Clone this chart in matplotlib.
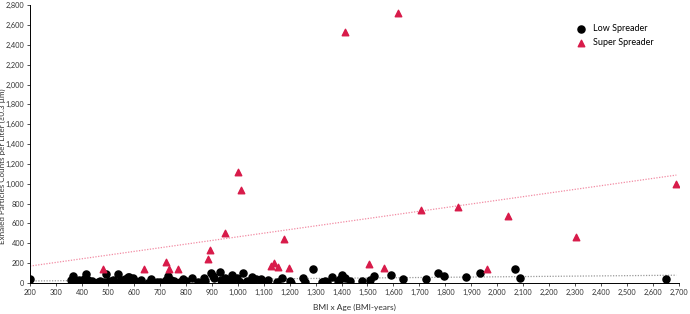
import numpy as np
import matplotlib
matplotlib.use("Agg")
import matplotlib.pyplot as plt
from matplotlib.ticker import FuncFormatter

# low spreader points (BMI x Age, particles / L)
low_x = [200, 356, 366, 375, 388, 399, 408, 417, 423, 434, 447, 460, 473, 486, 494, 505,
         518, 531, 540, 551, 561, 574, 583, 592, 600, 609, 626, 655, 668, 700, 717, 732,
         745, 761, 778, 791, 823, 849, 871, 897, 910, 930, 937, 950, 980, 980, 999, 1019,
         1037, 1057, 1071, 1089, 1093, 1117, 1172, 1202, 1204, 1250, 1260, 1289, 1324, 1337,
         1345, 1363, 1387, 1400, 1413, 1433, 1478, 1511, 1527, 1589, 1638, 1724, 1772, 1794,
         1879, 1935, 2067, 2086, 2651,
         380, 395, 440, 455, 470, 500, 525, 545, 565, 578, 588, 595, 605, 690, 725, 740,
         755, 800, 875, 905, 960, 1010, 1050, 1110, 1150, 1330, 1395]
low_y = [44, 34, 67, 10, 34, 0, 44, 94, 27, 10, 0, 10, 0, 10, 87, 20,
         34, 10, 94, 27, 10, 34, 60, 34, 10, 0, 34, 0, 40, 10, 10, 67,
         34, 0, 10, 44, 54, 10, 54, 97, 54, 114, 30, 54, 81, 13, 54, 97,
         24, 57, 37, 40, 7, 30, 54, 24, 0, 54, 13, 141, 7, 24,
         7, 64, 24, 81, 47, 24, 24, 30, 74, 81, 40, 40, 97, 74,
         64, 104, 138, 54, 37,
         20, 15, 25, 5, 20, 5, 25, 15, 40, 60, 15, 50, 20, 15, 30, 10,
         20, 20, 20, 70, 20, 15, 20, 10, 10, 15, 40]

# super spreader points
super_x = [482, 638, 725, 735, 771, 886, 894, 950, 1000, 1014, 1127, 1139, 1156, 1179, 1198,
           1413, 1505, 1563, 1619, 1705, 1850, 1961, 2040, 2305, 2690]
super_y = [140, 141, 208, 141, 141, 239, 336, 507, 1122, 940, 171, 198, 158, 440, 151,
           2531, 191, 154, 2722, 735, 762, 138, 678, 467, 997]

red = "#D81B4A"
plt.rcParams["font.family"] = ["Lato", "DejaVu Sans"]

fig = plt.figure(figsize=(6.9, 3.14), dpi=100)
ax = fig.add_axes([0.0435, 0.0987, 0.9405, 0.885])

ax.scatter(low_x, low_y, s=26, color="black", marker="o", zorder=3, label="Low Spreader")
ax.scatter(super_x, super_y, s=22, color=red, marker="^", zorder=3, label="Super Spreader")

# linear trend lines
xs = np.array([min(low_x + super_x), max(low_x + super_x)])
a, b = np.polyfit(low_x, low_y, 1)
ax.plot(xs, a * xs + b, color="#9a9a9a", lw=0.9, ls=(0, (1, 1.2)), zorder=2)
a, b = np.polyfit(super_x, super_y, 1)
ax.plot(xs, a * xs + b, color="#F28BA3", lw=0.9, ls=(0, (1, 1.2)), zorder=2)

ax.set_xlim(200, 2700)
ax.set_ylim(0, 2800)
ax.set_xticks(range(200, 2701, 100))
ax.set_yticks(range(0, 2801, 200))
fmt = FuncFormatter(lambda v, p: f"{int(v):,}")
ax.xaxis.set_major_formatter(fmt)
ax.yaxis.set_major_formatter(fmt)
ax.tick_params(labelsize=5.3, length=2, width=0.6, pad=2, colors="#333333")
for s in ["top", "right"]:
    ax.spines[s].set_visible(False)
for s in ["left", "bottom"]:
    ax.spines[s].set_linewidth(0.7)

ax.set_xlabel("BMI x Age (BMI-years)", fontsize=6, color="#333333")
ax.xaxis.set_label_coords(0.5, -0.075)
ax.set_ylabel("Exhaled Particles Counts per Liter (\u22650.3 \u00b5m)", fontsize=5.8,
              color="#333333")
ax.yaxis.set_label_coords(-0.037, 0.42)

ax.legend(loc="upper left", bbox_to_anchor=(0.83, 0.945), frameon=False, fontsize=6.5,
          handletextpad=0.3, labelspacing=0.6, borderaxespad=0)

fig.savefig("out.png", dpi=100)
